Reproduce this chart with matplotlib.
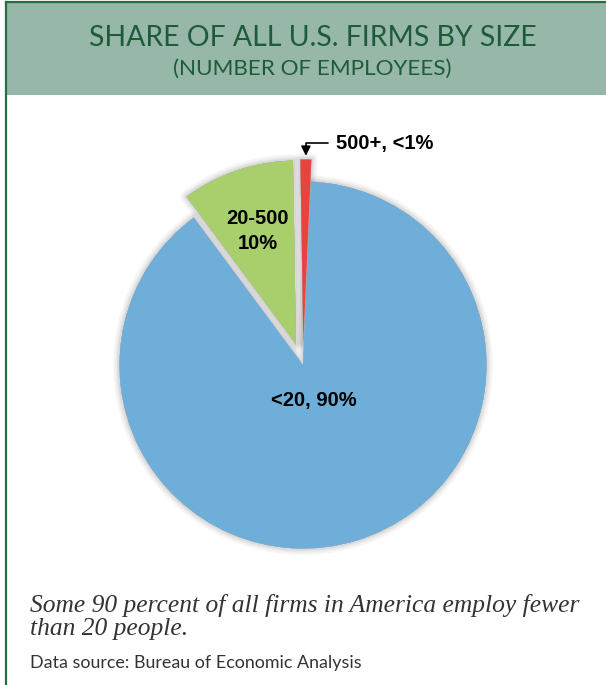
import numpy as np
import matplotlib
matplotlib.use("Agg")
import matplotlib.pyplot as plt
from matplotlib.patches import Rectangle
from matplotlib.lines import Line2D

# data
size_groups = ["<20", "20-500", "500+"]
shares = [89.2, 9.9, 0.95]
share_labels = ["<20, 90%", "20-500\n10%", "500+, <1%"]
colors = ["#6EAED9", "#A8CF6B", "#E8433F"]

title = "SHARE OF ALL U.S. FIRMS BY SIZE"
subtitle = "(NUMBER OF EMPLOYEES)"
caption = "Some 90 percent of all firms in America employ fewer\nthan 20 people."
source = "Data source: Bureau of Economic Analysis"

W, H = 606, 685
fig = plt.figure(figsize=(W / 100, H / 100), dpi=100)
fig.patch.set_facecolor("white")


def fx(px):
    return px / W


def fy(py):
    return 1 - py / H


# header band and frame
fig.patches.append(Rectangle((fx(6), fy(95)), fx(W), fy(2) - fy(95),
                             transform=fig.transFigure, facecolor="#97B8A8",
                             edgecolor="none", zorder=0))
fig.lines.append(Line2D([fx(6), fx(W)], [fy(2), fy(2)], transform=fig.transFigure,
                        color="#2B6A48", lw=1.6))
fig.lines.append(Line2D([fx(6), fx(6)], [fy(2), fy(H)], transform=fig.transFigure,
                        color="#2B6A48", lw=1.6))

fig.text(fx(313), fy(38), title, ha="center", va="center", color="#1D5B3A",
         fontsize=20.4, family="Lato")
fig.text(fx(312), fy(69), subtitle, ha="center", va="center", color="#1D5B3A",
         fontsize=16.2, family="Lato")

# pie axes: centre (303, 365) px, radius 183.5 px
cx, cy, r_px = 303, 365, 183.5
lim = 1.4
side = 2 * lim * r_px
ax = fig.add_axes([fx(cx - side / 2), fy(cy + side / 2), side / W, side / H])

explode = [0, 0.12, 0.12]
start = 87.5

# soft grey glow behind the wedges (stacked translucent strokes)
for lw in [9, 6, 4, 2.5]:
    ax.pie(shares, explode=explode, startangle=start, counterclock=False,
           colors=["#BDBDBD"] * 3,
           wedgeprops=dict(edgecolor=(0.45, 0.45, 0.45, 0.07), linewidth=lw,
                           joinstyle="round"))
wedges, _ = ax.pie(shares, explode=explode, startangle=start, counterclock=False,
                   colors=colors, wedgeprops=dict(edgecolor="none"))
ax.set_xlim(-lim, lim)
ax.set_ylim(-lim, lim)
ax.set_aspect("equal")
ax.axis("off")

# labels placed along each wedge's mid angle
label_dist = [0.2, 0.65]
for w, lab, d in zip(wedges[:2], share_labels[:2], label_dist):
    th = np.deg2rad((w.theta1 + w.theta2) / 2)
    x0, y0 = w.center
    ax.text(x0 + d * np.cos(th), y0 + d * np.sin(th), lab, ha="center", va="center",
            fontsize=14.5, fontweight="bold", family="Liberation Sans",
            linespacing=1.4)

red = wedges[2]
th = np.deg2rad((red.theta1 + red.theta2) / 2)
tip = (red.center[0] + 1.02 * np.cos(th), red.center[1] + 1.02 * np.sin(th))
ax.annotate(share_labels[2], xy=tip, xytext=(0.18, tip[1] + 0.068),
            ha="left", va="center", fontsize=14.5, fontweight="bold",
            family="Liberation Sans",
            arrowprops=dict(arrowstyle="-|>", color="black", lw=1.2,
                            connectionstyle="angle,angleA=0,angleB=90,rad=0",
                            relpos=(0, 0.5), shrinkA=4, shrinkB=0,
                            mutation_scale=14))

fig.text(fx(30), fy(617), caption, ha="left", va="center", color="#333333",
         fontsize=18.4, family="Liberation Serif", style="italic", linespacing=1.08)
fig.text(fx(30), fy(663), source, ha="left", va="center", color="#333333",
         fontsize=12.9, family="Lato")

fig.savefig("out.png", dpi=100)
